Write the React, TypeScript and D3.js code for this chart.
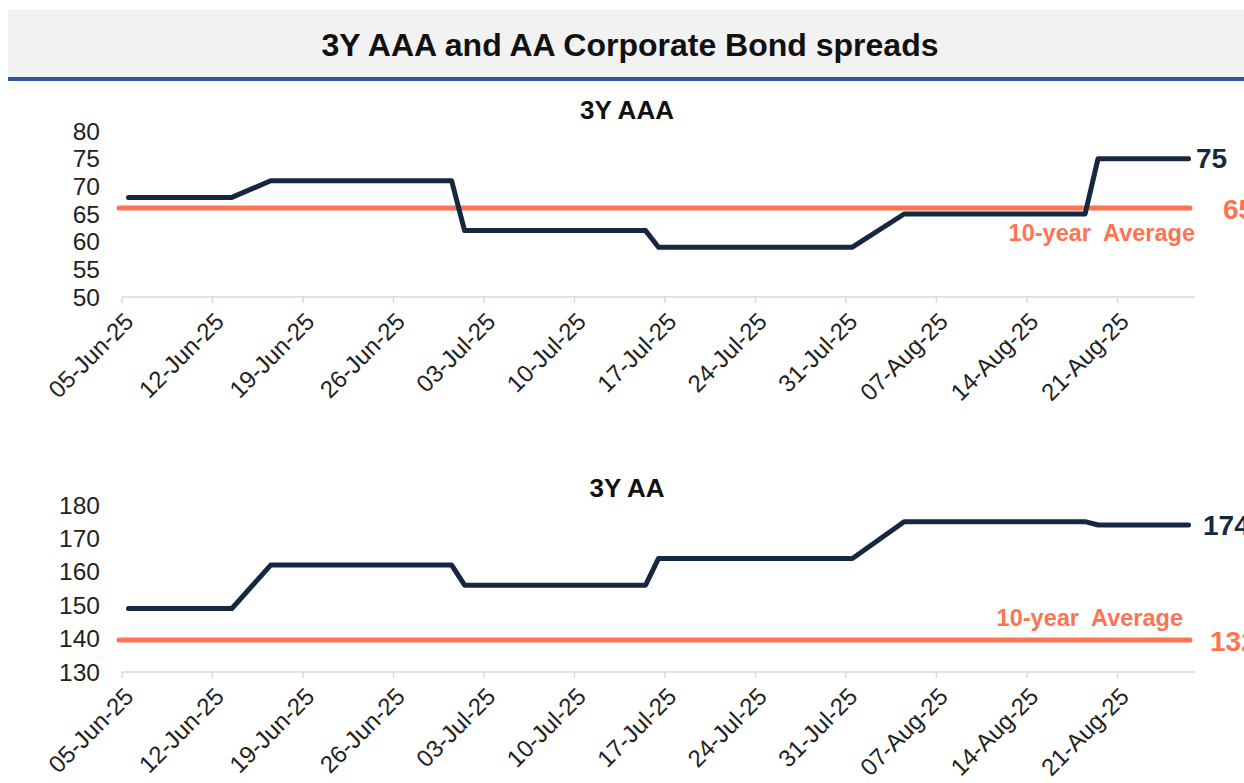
import React from 'react';
import * as d3 from 'd3';

// trading days shown on both panels (Aug 1 has no print)
const dates = [
    '2025-06-05', '2025-06-06', '2025-06-09', '2025-06-10', '2025-06-11', '2025-06-12', '2025-06-13',
    '2025-06-16', '2025-06-17', '2025-06-18', '2025-06-19', '2025-06-20', '2025-06-23', '2025-06-24',
    '2025-06-25', '2025-06-26', '2025-06-27', '2025-06-30', '2025-07-01', '2025-07-02', '2025-07-03',
    '2025-07-04', '2025-07-07', '2025-07-08', '2025-07-09', '2025-07-10', '2025-07-11', '2025-07-14',
    '2025-07-15', '2025-07-16', '2025-07-17', '2025-07-18', '2025-07-21', '2025-07-22', '2025-07-23',
    '2025-07-24', '2025-07-25', '2025-07-28', '2025-07-29', '2025-07-30', '2025-07-31', '2025-08-04',
    '2025-08-05', '2025-08-06', '2025-08-07', '2025-08-08', '2025-08-11', '2025-08-12', '2025-08-13',
    '2025-08-14', '2025-08-15', '2025-08-18', '2025-08-19', '2025-08-20', '2025-08-21', '2025-08-22',
    '2025-08-25', '2025-08-26'
];

const aaaValues = [
    68, 68, 68, 68, 68, 68, 68,
    71, 71, 71, 71, 71, 71, 71,
    71, 71, 71, 71, 62, 62, 62,
    62, 62, 62, 62, 62, 62, 62,
    62, 59, 59, 59, 59, 59, 59,
    59, 59, 59, 59, 59, 59, 65,
    65, 65, 65, 65, 65, 65, 65,
    65, 65, 65, 75, 75, 75, 75,
    75, 75
];

const aaValues = [
    149, 149, 149, 149, 149, 149, 149,
    162, 162, 162, 162, 162, 162, 162,
    162, 162, 162, 162, 156, 156, 156,
    156, 156, 156, 156, 156, 156, 156,
    156, 164, 164, 164, 164, 164, 164,
    164, 164, 164, 164, 164, 164, 175,
    175, 175, 175, 175, 175, 175, 175,
    175, 175, 175, 174, 174, 174, 174,
    174, 174
];

const tickDates = [
    '2025-06-05', '2025-06-12', '2025-06-19', '2025-06-26', '2025-07-03', '2025-07-10',
    '2025-07-17', '2025-07-24', '2025-07-31', '2025-08-07', '2025-08-14', '2025-08-21'
];

const aaaTicks = [50, 55, 60, 65, 70, 75, 80];
const aaTicks = [130, 140, 150, 160, 170, 180];

const aaaAverage = 66.1;
const aaAverage = 139.6;
const aaaAverageLabel = '65';
const aaAverageLabel = '132';
const aaaLast = '75';
const aaLast = '174';

const NAVY = '#16283f';
const ORANGE = '#ff7350';
const FONT = '"Liberation Sans", Arial, sans-serif';

const parse = d3.utcParse('%Y-%m-%d');
const fmt = d3.utcFormat('%d-%b-%y');
const DAY = 86400000;

const xScale = d3.scaleUtc()
    .domain([parse('2025-06-05') as Date, parse('2025-08-27') as Date])
    .range([122, 1195]);

// Excel date axis puts each point in the middle of its day slot
const xOf = (d: string) => xScale(new Date((parse(d) as Date).getTime() + DAY / 2));

interface PanelProps {
    title: string;
    titleY: number;
    values: number[];
    ticks: number[];
    top: number;
    bottom: number;
    average: number;
    averageLabel: string;
    lastLabel: string;
    avgTextY: number;
    avgTextX: number;
    avgLabelX: number;
    lastLabelX: number;
}

const Panel = (props: PanelProps) => {
    const { title, titleY, values, ticks, top, bottom, average, averageLabel, lastLabel } = props;
    const yScale = d3.scaleLinear().domain([ticks[0], ticks[ticks.length - 1]]).range([bottom, top]);

    const line = d3.line<number>()
        .x((_, i) => xOf(dates[i]))
        .y(v => yScale(v));

    const lastY = yScale(values[values.length - 1]);
    const avgY = yScale(average);

    return (
        <g>
            <text x={627} y={titleY} textAnchor='middle' dominantBaseline='central'
                style={{ fontFamily: FONT, fontWeight: 700, fontSize: 26, fill: '#111' }}>{title}</text>
            {ticks.map(t => (
                <text key={`y-${t}`} x={100} y={yScale(t)} textAnchor='end' dominantBaseline='central'
                    style={{ fontFamily: FONT, fontSize: 24.5, fill: '#222' }}>{t}</text>
            ))}
            <line x1={122} x2={1195} y1={bottom} y2={bottom} stroke='#d9d9d9' strokeWidth={1.5} />
            {tickDates.map(d => {
                const x = xScale(parse(d) as Date);
                return (
                    <g key={`x-${d}`}>
                        <line x1={x} x2={x} y1={bottom} y2={bottom + 6} stroke='#d9d9d9' strokeWidth={1.5} />
                        <text transform={`translate(${x + 7},${bottom + 20}) rotate(-45)`} textAnchor='end'
                            dominantBaseline='central'
                            style={{ fontFamily: FONT, fontSize: 24, fill: '#222' }}>{fmt(parse(d) as Date)}</text>
                    </g>
                );
            })}
            <line x1={119} x2={1190} y1={avgY} y2={avgY} stroke={ORANGE} strokeWidth={5} strokeLinecap='round' />
            <path d={line(values) || ''} fill='none' stroke={NAVY} strokeWidth={5}
                strokeLinecap='round' strokeLinejoin='round' />
            <text x={props.avgTextX} y={props.avgTextY} textAnchor='end' dominantBaseline='central'
                style={{ fontFamily: FONT, fontWeight: 700, fontSize: 23.5, fill: ORANGE, whiteSpace: 'pre' }}>{'10-year  Average'}</text>
            <text x={props.lastLabelX} y={lastY} dominantBaseline='central'
                style={{ fontFamily: FONT, fontWeight: 700, fontSize: 28, fill: NAVY }}>{lastLabel}</text>
            <text x={props.avgLabelX} y={avgY + 2} dominantBaseline='central'
                style={{ fontFamily: FONT, fontWeight: 700, fontSize: 28, fill: ORANGE }}>{averageLabel}</text>
        </g>
    );
};

export default function App() {
    return (
        <div style={{ position: 'absolute', left: 0, top: 0, width: 1244, height: 783, overflow: 'hidden', background: '#fff' }}>
            <svg width={1244} height={783}>
                <rect x={8} y={10} width={1236} height={67} fill='#f2f2f2' />
                <rect x={8} y={77} width={1236} height={4} fill='#2f5597' />
                <text x={630} y={45} textAnchor='middle' dominantBaseline='central'
                    style={{ fontFamily: FONT, fontWeight: 700, fontSize: 32, fill: '#111' }}>3Y AAA and AA Corporate Bond spreads</text>
                <Panel title='3Y AAA' titleY={110} values={aaaValues} ticks={aaaTicks} top={131} bottom={297}
                    average={aaaAverage} averageLabel={aaaAverageLabel} lastLabel={aaaLast}
                    avgTextX={1195} avgTextY={233} avgLabelX={1223} lastLabelX={1196} />
                <Panel title='3Y AA' titleY={488} values={aaValues} ticks={aaTicks} top={505} bottom={672}
                    average={aaAverage} averageLabel={aaAverageLabel} lastLabel={aaLast}
                    avgTextX={1183} avgTextY={618} avgLabelX={1210} lastLabelX={1203} />
            </svg>
        </div>
    );
}
